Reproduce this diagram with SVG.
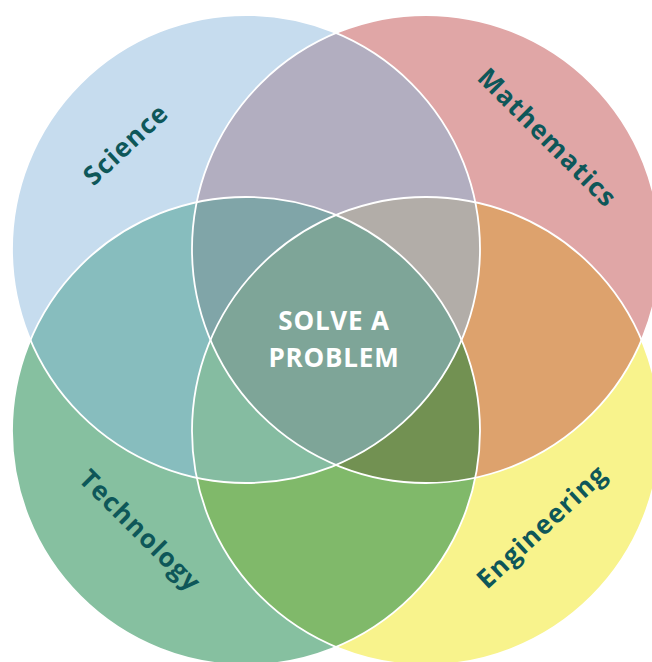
<svg xmlns="http://www.w3.org/2000/svg" width="652" height="662" viewBox="0 0 652 662">
<style>
.lbl{font-family:"Open Sans","Liberation Sans",sans-serif;font-weight:700;font-size:26px;fill:#0E5759;text-anchor:middle;letter-spacing:1.2px}
.ctr{font-family:"Open Sans","Liberation Sans",sans-serif;font-weight:700;font-size:26px;fill:#FFFFFF;text-anchor:middle;letter-spacing:0.8px}
.edge{fill:none;stroke:#FFFFFF;stroke-width:1.8}
</style>
<defs>
<clipPath id="kS"><circle cx="246" cy="249" r="234"/></clipPath>
<clipPath id="kM"><circle cx="426" cy="249" r="234"/></clipPath>
<clipPath id="kT"><circle cx="246" cy="431" r="234"/></clipPath>
<clipPath id="kE"><circle cx="426" cy="431" r="234"/></clipPath>
</defs>
<rect width="652" height="662" fill="#FFFFFF"/>
<g id="science">
<circle cx="246" cy="249" r="234" fill="#C6DCEE"/>
<text class="lbl" transform="translate(132,151) rotate(-43)">Science</text>
</g>
<g id="mathematics">
<circle cx="426" cy="249" r="234" fill="#E0A6A6"/>
<text class="lbl" transform="translate(541,144) rotate(45)">Mathematics</text>
</g>
<g id="technology">
<circle cx="246" cy="431" r="234" fill="#86C0A0"/>
<text class="lbl" transform="translate(134,537) rotate(45)">Technology</text>
</g>
<g id="engineering">
<circle cx="426" cy="431" r="234" fill="#F8F38C"/>
<text class="lbl" transform="translate(548,533) rotate(-43)">Engineering</text>
</g>
<g id="overlaps">
<g clip-path="url(#kS)"><rect clip-path="url(#kM)" width="652" height="662" fill="#B2AEC0"/></g>
<g clip-path="url(#kS)"><rect clip-path="url(#kT)" width="652" height="662" fill="#87BDBE"/></g>
<g clip-path="url(#kM)"><rect clip-path="url(#kE)" width="652" height="662" fill="#DDA26D"/></g>
<g clip-path="url(#kT)"><rect clip-path="url(#kE)" width="652" height="662" fill="#80B96A"/></g>
<g clip-path="url(#kS)"><g clip-path="url(#kM)"><rect clip-path="url(#kT)" width="652" height="662" fill="#80A5A8"/></g></g>
<g clip-path="url(#kS)"><g clip-path="url(#kM)"><rect clip-path="url(#kE)" width="652" height="662" fill="#B2ADA8"/></g></g>
<g clip-path="url(#kS)"><g clip-path="url(#kT)"><rect clip-path="url(#kE)" width="652" height="662" fill="#85BCA1"/></g></g>
<g clip-path="url(#kM)"><g clip-path="url(#kT)"><rect clip-path="url(#kE)" width="652" height="662" fill="#729152"/></g></g>
<g clip-path="url(#kS)"><g clip-path="url(#kM)"><g clip-path="url(#kT)"><rect clip-path="url(#kE)" width="652" height="662" fill="#7EA598"/></g></g></g>
</g>
<g id="outlines">
<circle class="edge" cx="246" cy="249" r="234"/>
<circle class="edge" cx="426" cy="249" r="234"/>
<circle class="edge" cx="246" cy="431" r="234"/>
<circle class="edge" cx="426" cy="431" r="234"/>
</g>
<g id="solve-a-problem">
<text class="ctr" x="334" y="330">SOLVE A</text>
<text class="ctr" x="334" y="367">PROBLEM</text>
</g>
</svg>
